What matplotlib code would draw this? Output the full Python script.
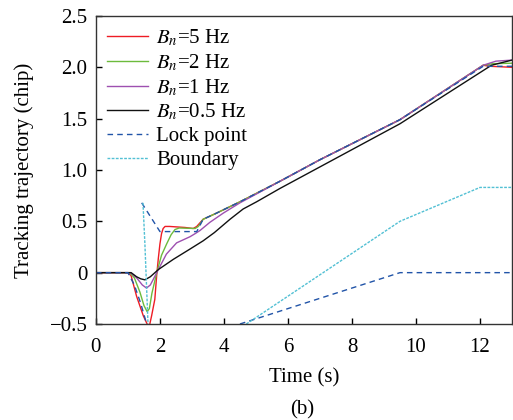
import numpy as np
import matplotlib
matplotlib.use("Agg")
from matplotlib import pyplot as plt

plt.rcParams['font.family'] = ['Liberation Serif', 'DejaVu Serif']
plt.rcParams['mathtext.fontset'] = 'stix'

# trajectories (time in s, value in chip)
t_red = [0, 1.0, 1.1, 1.27, 1.48, 1.6, 1.67, 1.74, 1.84, 1.9, 1.95, 2.0, 2.05, 2.1, 2.16, 2.3, 2.78, 3.04,
         3.15, 3.35, 3.77, 4.5, 5.75, 7.0, 9.5, 12.1, 12.3, 13]
y_red = [0, 0, -0.03, -0.23, -0.42, -0.5, -0.52, -0.42, -0.26, -0.02, 0.14, 0.28, 0.38, 0.43, 0.45, 0.45, 0.44,
         0.43, 0.45, 0.52, 0.58, 0.69, 0.89, 1.10, 1.49, 2.02, 2.01, 2.00]

t_green = [0, 1.05, 1.2, 1.375, 1.5, 1.6, 1.67, 1.75, 1.9, 2.05, 2.21, 2.35, 2.47, 2.6, 3.1, 3.2, 3.35, 3.77,
           4.5, 5.75, 7.0, 9.5, 12.1, 12.4, 13]
y_green = [0, 0, -0.05, -0.19, -0.32, -0.38, -0.35, -0.2, 0.0, 0.17, 0.28, 0.37, 0.42, 0.435, 0.43, 0.45, 0.52,
           0.58, 0.69, 0.89, 1.10, 1.49, 2.02, 2.035, 2.04]

t_purple = [0, 1.08, 1.27, 1.45, 1.58, 1.7, 1.8, 1.9, 2.05, 2.2, 2.52, 2.94, 3.1, 3.25, 3.56, 3.98, 4.5,
            5.75, 7.0, 9.5, 12.1, 12.5, 13]
y_purple = [0, 0, -0.05, -0.12, -0.15, -0.12, -0.06, 0.0, 0.09, 0.18, 0.29, 0.35, 0.38, 0.41, 0.49, 0.58, 0.68,
            0.89, 1.10, 1.49, 2.02, 2.06, 2.07]

t_black = [0, 1.1, 1.27, 1.4, 1.53, 1.7, 1.95, 2.42, 2.94, 3.35, 3.7, 4.19, 4.6, 5.02, 5.75, 7.0, 9.5,
           12.36, 13]
y_black = [0, 0, -0.04, -0.06, -0.07, -0.04, 0.03, 0.13, 0.23, 0.31, 0.39, 0.52, 0.62, 0.69, 0.82, 1.03, 1.45,
           2.02, 2.07]

t_lock = [0, 1.0, 1.2, 1.4, 1.53, 1.6, np.nan, 1.43, 2.0, 3.15, 3.35, 3.77, 4.5, 5.75, 7.0, 9.5, 12.1, 13,
          np.nan, 4.5, 9.5, 13]
y_lock = [0, 0, -0.12, -0.3, -0.44, -0.52, np.nan, 0.68, 0.40, 0.40, 0.52, 0.58, 0.69, 0.89, 1.10, 1.49, 2.01,
          2.01, np.nan, -0.5, 0, 0]

t_bound = [1.47, 1.53, 1.63, np.nan, 4.7, 9.5, 12.0, 13]
y_bound = [0.68, 0.28, -0.52, np.nan, -0.5, 0.5, 0.83, 0.83]

x_ticks = [0, 2, 4, 6, 8, 10, 12]
y_ticks = [-0.5, 0, 0.5, 1.0, 1.5, 2.0, 2.5]
y_tick_labels = ["\u22120.5", "0", "0.5", "1.0", "1.5", "2.0", "2.5"]

fig = plt.figure(figsize=(5.13, 4.2), dpi=100)
ax = fig.add_axes([0.187, 0.2286, 0.811, 0.7334])

lw = 1.0
ax.plot(t_red, y_red, color='#ee1c24', lw=lw, label=r"$B_n$=5 Hz")
ax.plot(t_green, y_green, color='#6cbb3c', lw=lw, label=r"$B_n$=2 Hz")
ax.plot(t_purple, y_purple, color='#9e50b0', lw=lw, label=r"$B_n$=1 Hz")
ax.plot(t_black, y_black, color='#111111', lw=lw, label=r"$B_n$=0.5 Hz")
ax.plot(t_lock, y_lock, color='#2154a8', lw=lw, ls=(0, (4, 3)), label="Lock point")
ax.plot(t_bound, y_bound, color='#52c0d4', lw=lw, ls=(0, (2, 1)), label="Boundary")

ax.set_xlim(0, 13)
ax.set_ylim(-0.5, 2.5)
ax.set_xticks(x_ticks)
ax.set_yticks(y_ticks)
ax.set_yticklabels(y_tick_labels)
ax.tick_params(direction='in', length=4, width=1, labelsize=15)
ax.tick_params(axis='x', pad=10)
ax.tick_params(axis='y', pad=6)
for s in ax.spines.values():
    s.set_linewidth(1.0)
    s.set_color('#333333')

ax.set_xlabel("Time (s)", fontsize=15, labelpad=8)
ax.set_ylabel("Tracking trajectory (chip)", fontsize=15, labelpad=11)

ax.legend(loc='upper left', frameon=False, fontsize=15, handlelength=1.95, handletextpad=0.4,
          labelspacing=0.2, borderaxespad=0.3, borderpad=0.25)

fig.text(0.59, 0.024, "(b)", fontsize=15, ha='center', va='center')

fig.savefig("out.png", dpi=100)
